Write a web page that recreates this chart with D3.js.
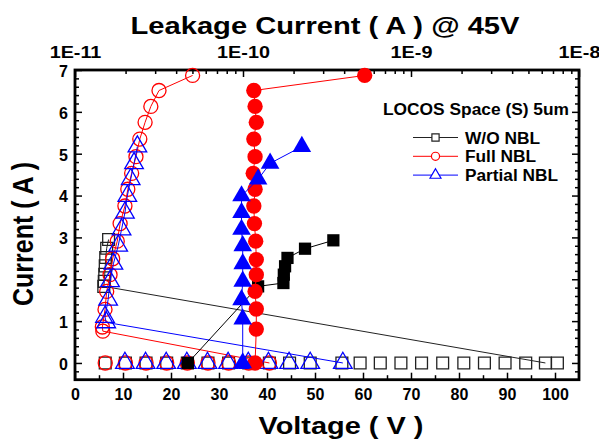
<!DOCTYPE html>
<html>
<head>
<meta charset="utf-8">
<script src="https://cdn.jsdelivr.net/npm/d3@7"></script>
<style>
  body { margin: 0; background: #fff; }
  text { font-family: "Liberation Sans", Arial, sans-serif; font-weight: bold; fill: #000; }
</style>
</head>
<body>
<div id="chart"></div>
<script>
// axis ticks
const voltTicks = d3.range(0, 101, 10)
const currTicks = d3.range(0, 8, 1)
const leakTicks = [1e-11, 1e-10, 1e-9, 1e-8]
const leakLabels = ['1E-11', '1E-10', '1E-9', '1E-8']

// W/O NBL : I-V curve (open) and leakage @45V (filled, top axis)
const woCurveV = [7.0, 6.6, 6.4, 6.3, 6.2, 6.1, 6.0, 98.0]
const woCurveI = [2.95, 2.74, 2.52, 2.32, 2.12, 1.95, 1.83, 0]
const woZeroV = [6.3, 10.5, 14.8, 19.1, 23.4, 27.7, 32.0, 36.2, 40.5, 44.7, 49.0, 55.6,
  59.4, 63.6, 67.9, 72.2, 76.6, 81.0, 85.3, 89.6, 93.9, 98.0, 100.5]
const woLeak = [3.45e-10, 2.34e-10, 1.84e-10, 1.78e-10, 1.75e-10, 1.74e-10, 1.23e-10, 4.7e-11]
const woLeakI = [2.93, 2.73, 2.51, 2.31, 2.11, 1.91, 1.83, 0]

// Full NBL
const fullCurveV = [24.5, 17.5, 15.8, 14.6, 13.5, 12.7, 11.8, 11.0, 10.4, 9.4, 8.8, 7.85,
  7.3, 6.6, 6.25, 5.7, 5.8, 40.5]
const fullCurveI = [6.87, 6.51, 6.13, 5.75, 5.35, 4.93, 4.53, 4.15, 3.75, 3.33, 2.91, 2.49,
  2.11, 1.71, 1.28, 0.86, 0.76, 0]
const fullZeroV = [6.3, 10.5, 14.8, 19.1, 23.4, 27.7, 32.0, 36.2, 40.5]
const fullLeak = [5.3e-10, 1.16e-10, 1.18e-10, 1.2e-10, 1.16e-10, 1.18e-10, 1.15e-10, 1.18e-10,
  1.16e-10, 1.17e-10, 1.19e-10, 1.2e-10, 1.2e-10, 1.18e-10, 1.2e-10, 1.2e-10, 1.18e-10]
const fullLeakI = [6.87, 6.51, 6.13, 5.75, 5.35, 4.93, 4.53, 4.15, 3.75, 3.33, 2.91, 2.47,
  2.11, 1.71, 1.29, 0.81, 0]

// Partial NBL
const partCurveV = [13.0, 12.3, 11.6, 10.9, 10.4, 9.7, 9.0, 8.0, 7.3, 6.9, 6.25, 6.5, 55.8]
const partCurveI = [5.17, 4.77, 4.39, 3.99, 3.59, 3.19, 2.8, 2.37, 1.95, 1.51, 1.1, 0.97, 0]
const partZeroV = [10.4, 14.7, 19.0, 23.3, 27.6, 31.9, 36.1, 40.3, 44.6, 49.0, 55.8]
const partLeak = [2.24e-10, 1.45e-10, 1.23e-10, 9.8e-11, 9.8e-11, 9.8e-11, 9.96e-11, 9.96e-11,
  9.96e-11, 9.8e-11, 9.96e-11, 9.96e-11]
const partLeakI = [5.17, 4.77, 4.39, 3.99, 3.59, 3.19, 2.8, 2.37, 1.95, 1.51, 1.05, 0]

const width = 599, height = 442
const m = {left: 75, right: 579, top: 70, bottom: 379.7}

const svg = d3.select('#chart').append('svg')
  .attr('width', width)
  .attr('height', height)

const x = d3.scaleLinear().domain([0, 105]).range([m.left, m.right])
const xTop = d3.scaleLog().domain([1e-11, 1e-8]).range([m.left, m.right])
const y = d3.scaleLinear().domain([-0.4, 7]).range([m.bottom, m.top])

const series = [
  {name: 'W/O NBL', color: '#000', open: '#222', shape: d3.symbolSquare, size: 140, fsize: 150,
    cv: woCurveV, ci: woCurveI, zv: woZeroV, lk: woLeak, li: woLeakI, tl: 75},
  {name: 'Full NBL', color: '#ff0000', open: '#ff0000', shape: d3.symbolCircle, size: 155, fsize: 185,
    cv: fullCurveV, ci: fullCurveI, zv: fullZeroV, lk: fullLeak, li: fullLeakI, tl: 71},
  {name: 'Partial NBL', color: '#0000ff', open: '#0000ff', shape: d3.symbolTriangle, size: 150, fsize: 150,
    cv: partCurveV, ci: partCurveI, zv: partZeroV, lk: partLeak, li: partLeakI, tl: 93}
]

// ticks (inward)
const g = svg.append('g')
const bAxis = g.append('g').attr('transform', `translate(0,${m.bottom})`)
  .call(d3.axisBottom(x).tickValues(voltTicks).tickSize(-7).tickPadding(8.6))
bAxis.selectAll('text').style('font-size', '16px')
g.append('g').attr('transform', `translate(0,${m.bottom})`)
  .call(d3.axisBottom(x).tickValues(d3.range(5, 100, 10)).tickSize(-4.5).tickFormat(''))

const lAxis = g.append('g').attr('transform', `translate(${m.left},0)`)
  .call(d3.axisLeft(y).tickValues(currTicks).tickSize(-7).tickPadding(7))
lAxis.selectAll('text').style('font-size', '16px').attr('dy', '0.4em')
const minorI = d3.range(-2, 35).map(d => d / 5).filter(d => Math.abs(d - Math.round(d)) > 0.01)
g.append('g').attr('transform', `translate(${m.left},0)`)
  .call(d3.axisLeft(y).tickValues(minorI).tickSize(-4).tickFormat(''))
g.append('g').attr('transform', `translate(${m.right},0)`)
  .call(d3.axisRight(y).tickValues(currTicks).tickSize(-7).tickFormat(''))
g.append('g').attr('transform', `translate(${m.right},0)`)
  .call(d3.axisRight(y).tickValues(minorI).tickSize(-4).tickFormat(''))

const tAxis = g.append('g').attr('transform', `translate(0,${m.top})`)
  .call(d3.axisTop(xTop).tickValues(leakTicks).tickSize(-7).tickPadding(12)
    .tickFormat((d, i) => leakLabels[i]))
tAxis.selectAll('text').style('font-size', '16.5px').attr('transform', 'scale(1.2,1)')
const minorL = []
for (const dec of [1e-11, 1e-10, 1e-9]) for (let k = 2; k < 10; k++) minorL.push(dec * k)
g.append('g').attr('transform', `translate(0,${m.top})`)
  .call(d3.axisTop(xTop).tickValues(minorL).tickSize(-4).tickFormat(''))

g.selectAll('.domain').remove()
g.selectAll('.tick line').attr('stroke', '#000').attr('stroke-width', 1.5)
g.selectAll('.tick text').attr('fill', '#000')

// frame
svg.append('rect')
  .attr('x', m.left).attr('y', m.top)
  .attr('width', m.right - m.left).attr('height', m.bottom - m.top)
  .attr('fill', 'none').attr('stroke', '#000').attr('stroke-width', 2.8)

const plot = svg.append('g')
const line = d3.line()

// open series: I-V curve
series.forEach(s => {
  const pts = s.cv.map((v, i) => [x(v), y(s.ci[i])])
  plot.append('path').attr('d', line(pts))
    .attr('fill', 'none').attr('stroke', s.open).attr('stroke-width', 1)
  const zero = s.zv.map(v => [x(v), y(0)])
  plot.selectAll(null).data(pts.slice(0, -1).concat(zero)).enter().append('path')
    .attr('transform', d => `translate(${d[0]},${d[1]})`)
    .attr('d', d3.symbol().type(s.shape).size(s.size))
    .attr('fill', 'none').attr('stroke', s.open).attr('stroke-width', 1.3)
})

// filled series: leakage at 45V on top axis
series.forEach(s => {
  const pts = s.lk.map((l, i) => [xTop(l), y(s.li[i])])
  plot.append('path').attr('d', line(pts))
    .attr('fill', 'none').attr('stroke', s.color).attr('stroke-width', 1)
  plot.selectAll(null).data(pts).enter().append('path')
    .attr('transform', d => `translate(${d[0]},${d[1]})`)
    .attr('d', d3.symbol().type(s.shape).size(s.fsize))
    .attr('fill', s.color)
})

// titles
svg.append('text')
  .attr('x', 325).attr('y', 33.5)
  .attr('text-anchor', 'middle')
  .attr('textLength', 389).attr('lengthAdjust', 'spacingAndGlyphs')
  .style('font-size', '24px')
  .text('Leakage Current ( A ) @ 45V')
svg.append('text')
  .attr('x', 341).attr('y', 434)
  .attr('text-anchor', 'middle')
  .attr('textLength', 165).attr('lengthAdjust', 'spacingAndGlyphs')
  .style('font-size', '24px')
  .text('Voltage ( V )')
svg.append('text')
  .attr('transform', 'translate(33,234) scale(1.2,1) rotate(-90)')
  .attr('text-anchor', 'middle')
  .attr('textLength', 144).attr('lengthAdjust', 'spacingAndGlyphs')
  .style('font-size', '25px')
  .text('Current ( A )')

// legend
const legend = svg.append('g')
legend.append('text')
  .attr('x', 383).attr('y', 115)
  .attr('textLength', 186).attr('lengthAdjust', 'spacingAndGlyphs')
  .style('font-size', '16px')
  .text('LOCOS Space (S) 5um')
series.forEach((s, i) => {
  const ly = 137.5 + i * 18.8
  legend.append('line')
    .attr('x1', 413).attr('x2', 458).attr('y1', ly).attr('y2', ly)
    .attr('stroke', s.open).attr('stroke-width', 1)
  legend.append('path')
    .attr('transform', `translate(435.5,${ly})`)
    .attr('d', d3.symbol().type(s.shape).size(52))
    .attr('fill', '#fff').attr('stroke', s.open).attr('stroke-width', 1.2)
  legend.append('text')
    .attr('x', 465).attr('y', ly + 6)
    .attr('textLength', s.tl).attr('lengthAdjust', 'spacingAndGlyphs')
    .style('font-size', '16px')
    .text(s.name)
})
</script>
</body>
</html>
